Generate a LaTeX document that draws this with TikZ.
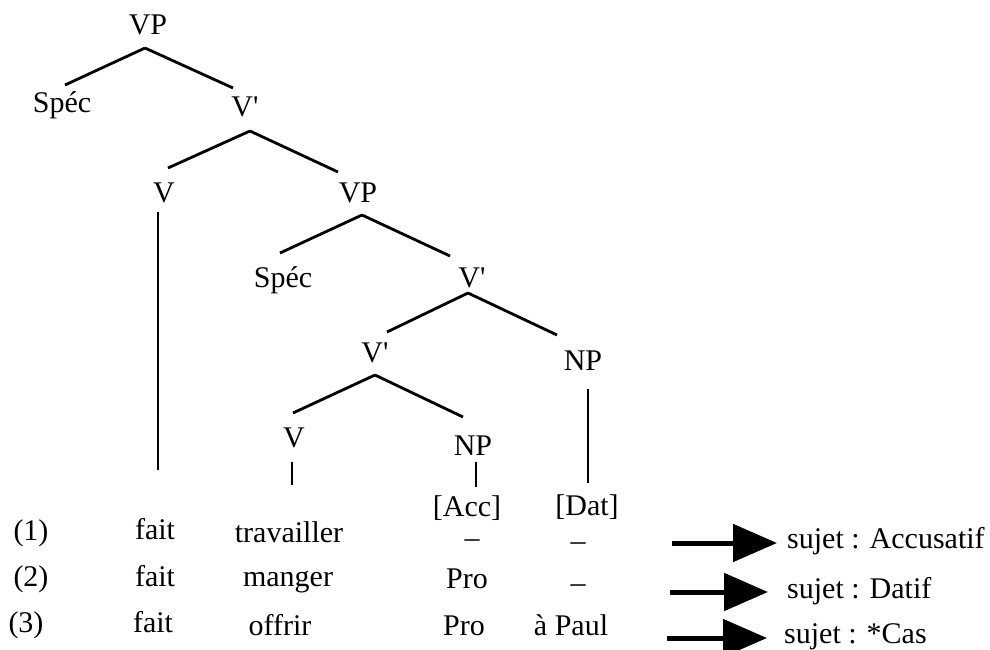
\documentclass[tikz,border=0pt]{standalone}
\usepackage{fontspec}
\setmainfont{Liberation Serif}
\usetikzlibrary{arrows.meta}
\begin{document}
\begin{tikzpicture}[x=1pt,y=-1pt,
  lbl/.style={anchor=base,inner sep=0pt,font=\fontsize{30}{36}\selectfont},
  rtxt/.style={anchor=base west,inner sep=0pt,font=\fontsize{30}{36}\selectfont},
  branch/.style={line width=2.8pt},
  bigarrow/.style={line width=5pt,-{Triangle[length=44pt,width=37pt]}}]
\useasboundingbox (0,0) rectangle (990,650);
% tree labels
\node[lbl] (vp1) at (148,35) {VP};
\node[lbl] (spec1) at (62,113) {Spéc};
\node[lbl] (vb1) at (245,117) {V\textquotesingle};
\node[lbl] (v1) at (164,202) {V};
\node[lbl] (vp2) at (358,202) {VP};
\node[lbl] (spec2) at (283,287) {Spéc};
\node[lbl] (vb2) at (472,287) {V\textquotesingle};
\node[lbl] (vb3) at (375,362) {V\textquotesingle};
\node[lbl] (np1) at (583,370) {NP};
\node[lbl] (v2) at (294,447) {V};
\node[lbl] (np2) at (473,455) {NP};
\node[lbl] (acc) at (467,516) {[Acc]};
\node[lbl] (dat) at (587,515) {[Dat]};
% rows
\node[lbl] (n1) at (31,540) {(1)};
\node[lbl] (n2) at (31,586) {(2)};
\node[lbl] (n3) at (26,632) {(3)};
\node[lbl] (f1) at (155,539) {fait};
\node[lbl] (f2) at (155,586) {fait};
\node[lbl] (f3) at (153,632) {fait};
\node[lbl] (w1) at (289,542) {travailler};
\node[lbl] (w2) at (288,586) {manger};
\node[lbl] (w3) at (280,635) {offrir};
\node[lbl] (d1a) at (472,547) {–};
\node[lbl] (d1b) at (578,550) {–};
\node[lbl] (pro2) at (467,588) {Pro};
\node[lbl] (d2b) at (578,592) {–};
\node[lbl] (pro3) at (464,635) {Pro};
\node[lbl] (paul) at (571,635) {à Paul};
% results
\node[rtxt] (s1) at (787,548) {sujet : Accusatif};
\node[rtxt] (s2) at (787,598) {sujet : Datif};
\node[rtxt] (s3) at (784,643) {sujet : *Cas};
% branches
\draw[branch] ([shift={(-3,13)}]vp1.base) -- ([shift={(3,-28)}]spec1.base);
\draw[branch] ([shift={(-3,13)}]vp1.base) -- ([shift={(-12,-29)}]vb1.base);
\draw[branch] ([shift={(5,14)}]vb1.base) -- ([shift={(4,-34)}]v1.base);
\draw[branch] ([shift={(5,14)}]vb1.base) -- ([shift={(-20,-30)}]vp2.base);
\draw[branch] ([shift={(-6,10)}]v1.base) -- ([shift={(3,-69)}]f1.base);
\draw[branch] ([shift={(4,13)}]vp2.base) -- ([shift={(-3,-34)}]spec2.base);
\draw[branch] ([shift={(4,13)}]vp2.base) -- ([shift={(-22,-31)}]vb2.base);
\draw[branch] ([shift={(-4,6)}]vb2.base) -- ([shift={(12,-30)}]vb3.base);
\draw[branch] ([shift={(-4,6)}]vb2.base) -- ([shift={(-26,-35)}]np1.base);
\draw[branch] ([shift={(0,13)}]vb3.base) -- ([shift={(-1,-34)}]v2.base);
\draw[branch] ([shift={(0,13)}]vb3.base) -- ([shift={(-10,-38)}]np2.base);
\draw[branch] ([shift={(-2,15)}]v2.base) -- ([shift={(3,-57)}]w1.base);
\draw[branch] ([shift={(3,7)}]np2.base) -- ([shift={(9,-29)}]acc.base);
\draw[branch] ([shift={(5,19)}]np1.base) -- ([shift={(1,-32)}]dat.base);
% arrows
\draw[bigarrow] ([shift={(-115,-5)}]s1.base west) -- ([shift={(-10,-5)}]s1.base west);
\draw[bigarrow] ([shift={(-117,-6)}]s2.base west) -- ([shift={(-19,-6)}]s2.base west);
\draw[bigarrow] ([shift={(-117,-5)}]s3.base west) -- ([shift={(-17,-5)}]s3.base west);
\end{tikzpicture}
\end{document}
